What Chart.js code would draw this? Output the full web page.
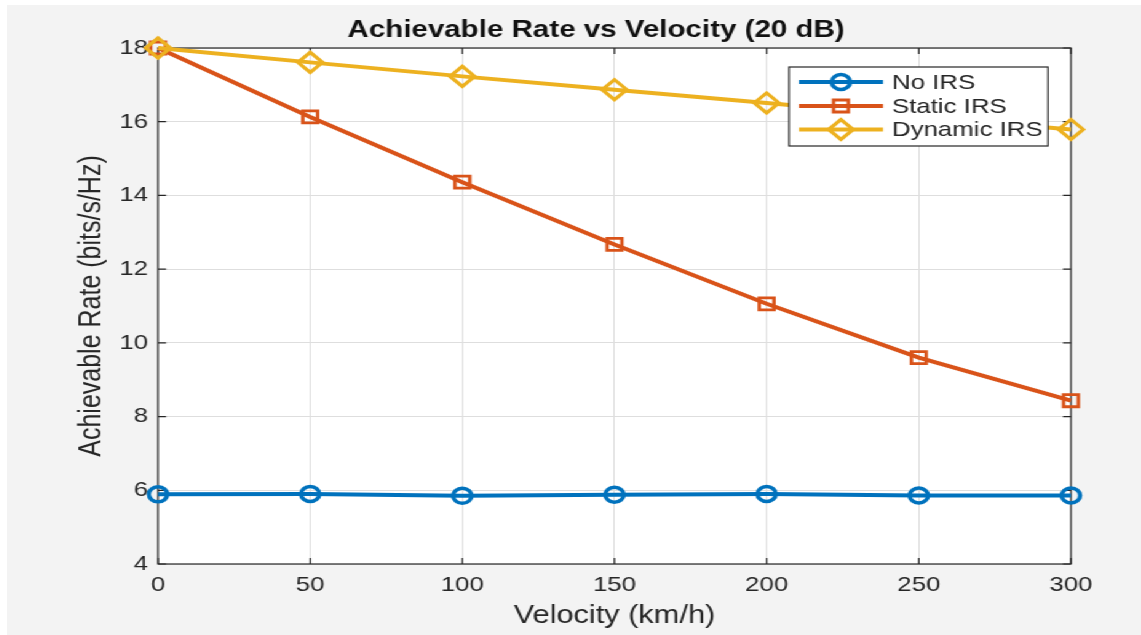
<!DOCTYPE html>
<html><head><meta charset="utf-8">
<script src="https://cdn.jsdelivr.net/npm/chart.js@4.4.1/dist/chart.umd.min.js"></script>
<style>
html,body{margin:0;padding:0;background:#fff;overflow:hidden;width:1141px;height:635px}
#wrap{position:absolute;left:7px;top:5px;width:922px;height:630px;transform:scaleX(1.23);transform-origin:0 0;background:#f3f3f3}
</style></head><body>
<div id="wrap"><canvas id="c"></canvas></div>
<script>
const velocities = [0, 50, 100, 150, 200, 250, 300];
const noIRS = [5.89, 5.90, 5.85, 5.88, 5.90, 5.86, 5.86];
const staticIRS = [18.00, 16.13, 14.36, 12.67, 11.06, 9.60, 8.43];
const dynamicIRS = [18.00, 17.61, 17.23, 16.87, 16.51, 16.14, 15.79];
const seriesNames = ['No IRS', 'Static IRS', 'Dynamic IRS'];
const xTickValues = [0, 50, 100, 150, 200, 250, 300];
const yTickValues = [4, 6, 8, 10, 12, 14, 16, 18];
const chartTitle = 'Achievable Rate vs Velocity (20 dB)';
const xTitle = 'Velocity (km/h)';
const yTitle = 'Achievable Rate (bits/s/Hz)';

const FONT = '"Liberation Sans", Arial, Helvetica, sans-serif';
const AXIS_COLOR = '#262626';
const COLORS = ['#0072BD', '#D95319', '#EDB120'];

function pts(vals) { return velocities.map((v, i) => ({x: v, y: vals[i]})); }

const plotBg = {
  id: 'plotBg',
  beforeDraw(chart) {
    const {ctx, chartArea: a} = chart;
    ctx.save(); ctx.fillStyle = '#ffffff';
    ctx.fillRect(a.left, a.top, a.right - a.left, a.bottom - a.top);
    ctx.restore();
  }
};

const boxTicks = {
  id: 'boxTicks',
  beforeDatasetsDraw(chart) {
    const {ctx, chartArea: a, scales} = chart;
    ctx.save();
    ctx.strokeStyle = AXIS_COLOR; ctx.lineWidth = 1.2;
    ctx.strokeRect(a.left, a.top, a.right - a.left, a.bottom - a.top);
    ctx.beginPath();
    scales.x.ticks.forEach(t => {
      const px = scales.x.getPixelForValue(t.value);
      ctx.moveTo(px, a.bottom); ctx.lineTo(px, a.bottom - 6);
      ctx.moveTo(px, a.top); ctx.lineTo(px, a.top + 6);
    });
    scales.y.ticks.forEach(t => {
      const py = scales.y.getPixelForValue(t.value);
      ctx.moveTo(a.left, py); ctx.lineTo(a.left + 6.5, py);
      ctx.moveTo(a.right, py); ctx.lineTo(a.right - 6.5, py);
    });
    ctx.stroke();
    ctx.restore();
  }
};

function drawMarker(ctx, ds, x, y) {
  ctx.save();
  ctx.strokeStyle = ds.borderColor;
  ctx.fillStyle = 'rgba(0,0,0,0)';
  ctx.lineWidth = ds.pointBorderWidth;
  Chart.helpers.drawPoint(ctx, {pointStyle: ds.pointStyle, radius: ds.pointRadius, borderWidth: ds.pointBorderWidth, rotation: 0}, x, y);
  ctx.restore();
}

const titleAndLegend = {
  id: 'titleAndLegend',
  afterDraw(chart) {
    const ctx = chart.ctx;
    ctx.save();
    ctx.fillStyle = '#111111';
    ctx.font = 'bold 24px ' + FONT;
    ctx.textAlign = 'center'; ctx.textBaseline = 'alphabetic';
    ctx.fillText(chartTitle, 478.9, 32);
    // legend box
    const bx = 635.8, by = 62, bw = 210.5, bh = 79;
    ctx.fillStyle = '#ffffff';
    ctx.fillRect(bx, by, bw, bh);
    ctx.strokeStyle = AXIS_COLOR; ctx.lineWidth = 1.2;
    ctx.strokeRect(bx, by, bw, bh);
    const rows = [77, 101, 124.5];
    chart.data.datasets.forEach((ds, i) => {
      const y = rows[i];
      ctx.strokeStyle = ds.borderColor; ctx.lineWidth = ds.borderWidth;
      ctx.beginPath(); ctx.moveTo(643.9, y); ctx.lineTo(712.2, y); ctx.stroke();
      drawMarker(ctx, ds, 678, y);
      ctx.fillStyle = AXIS_COLOR;
      ctx.font = '21px ' + FONT;
      ctx.textAlign = 'left'; ctx.textBaseline = 'middle';
      ctx.fillText(ds.label, 719.5, y + 1);
    });
    ctx.restore();
  }
};

const mk = (label, vals, color, style, r, pbw, order) => ({
  label, data: pts(vals), borderColor: color, backgroundColor: 'rgba(0,0,0,0)',
  borderWidth: 4, pointStyle: style, pointRadius: r, pointHoverRadius: r,
  pointBorderWidth: pbw, pointBackgroundColor: 'rgba(0,0,0,0)', pointBorderColor: color,
  tension: 0, clip: false, order
});

new Chart(document.getElementById('c'), {
  type: 'line',
  data: {
    datasets: [
      mk(seriesNames[0], noIRS, COLORS[0], 'circle', 7.5, 3.5, 3),
      mk(seriesNames[1], staticIRS, COLORS[1], 'rect', 8.5, 2.8, 2),
      mk(seriesNames[2], dynamicIRS, COLORS[2], 'rectRot', 10, 3.2, 1)
    ]
  },
  options: {
    responsive: true, maintainAspectRatio: false, animation: false,
    layout: {padding: {top: 43, right: 57, left: 0, bottom: 0}},
    plugins: {legend: {display: false}, title: {display: false}, tooltip: {enabled: false}},
    scales: {
      x: {
        type: 'linear', min: 0, max: 300,
        afterBuildTicks: s => { s.ticks = xTickValues.map(v => ({value: v})); },
        afterFit: s => { s.height = 71; },
        grid: {color: '#dedede', lineWidth: 1, drawTicks: false},
        border: {display: false},
        ticks: {color: AXIS_COLOR, font: {family: FONT, size: 21}, padding: 9, maxRotation: 0},
        title: {display: true, text: xTitle, color: AXIS_COLOR, font: {family: FONT, size: 25}, padding: {top: 0, bottom: 4}}
      },
      y: {
        type: 'linear', min: 4, max: 18,
        afterBuildTicks: s => { s.ticks = yTickValues.map(v => ({value: v})); },
        afterFit: s => { s.width = 122.8; },
        grid: {color: '#dedede', lineWidth: 1, drawTicks: false},
        border: {display: false},
        ticks: {color: AXIS_COLOR, font: {family: FONT, size: 21}, padding: 8},
        title: {display: true, text: yTitle, color: AXIS_COLOR, font: {family: FONT, size: 25}, padding: {top: 54, bottom: 0}}
      }
    }
  },
  plugins: [plotBg, boxTicks, titleAndLegend]
});
</script>
</body></html>
